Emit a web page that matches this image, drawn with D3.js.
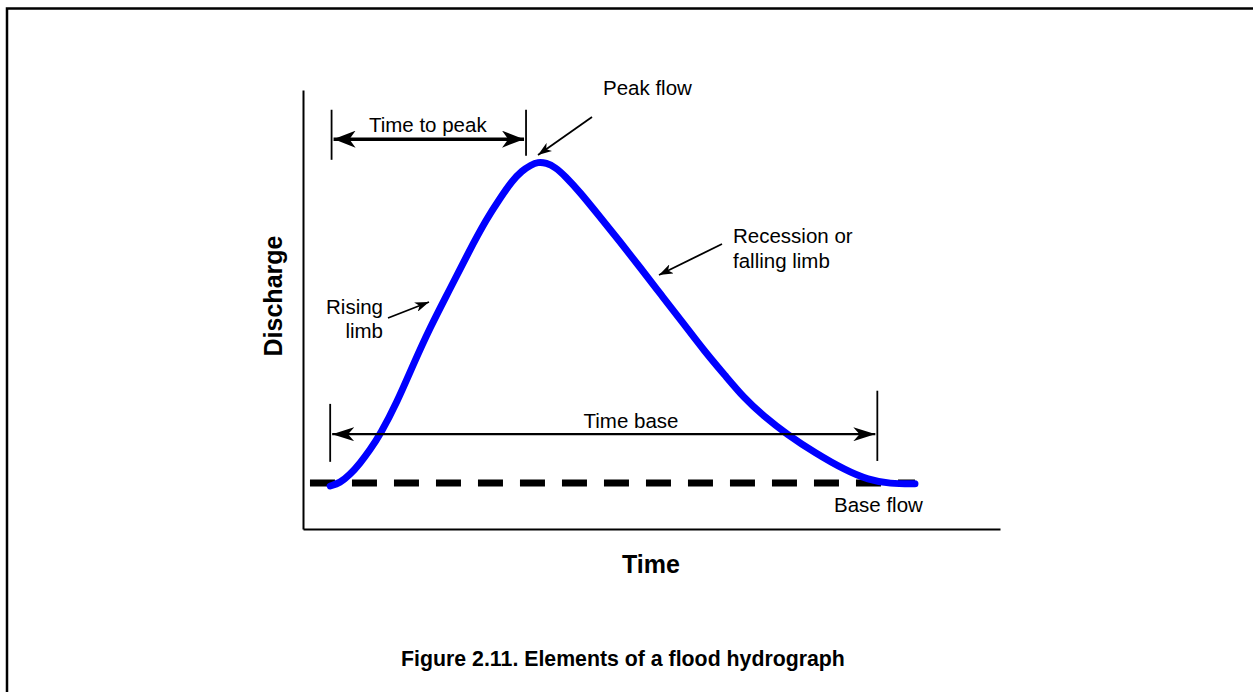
<!DOCTYPE html>
<html>
<head>
<meta charset="utf-8">
<script src="https://cdn.jsdelivr.net/npm/d3@7"></script>
<style>
    body { margin: 0; background: #fff; }
    text { font-family: "Liberation Sans", Arial, sans-serif; fill: #000; }
    .bold { font-weight: bold; }
</style>
</head>
<body>
<div id="chart"></div>
<script>
// Hydrograph values (time and discharge in relative units, 0-100)
var hydroTime = [3.9, 5.3, 6.7, 8.2, 9.6, 11.1, 13.5, 15.8, 18.2, 21.0, 23.7, 26.4, 28.3, 30.0, 31.4, 32.7, 33.7,
    34.9, 36.2, 37.6, 39.7, 42.6, 45.5, 48.4, 51.4, 54.4, 57.7, 60.6, 63.3, 66.1, 69.4, 73.5, 77.8, 81.1, 84.2, 87.8];
var hydroFlow = [9.8, 10.5, 12.3, 15.0, 18.0, 21.6, 28.9, 37.4, 45.8, 54.4, 62.9, 70.8, 75.4, 79.3, 81.6, 82.9, 83.6,
    83.4, 82.4, 80.4, 76.8, 71.1, 65.4, 59.5, 53.3, 47.2, 40.3, 34.9, 29.8, 25.7, 21.6, 17.3, 13.4, 11.2, 10.3, 10.3];

// Base flow level and extent
var baseFlow = 10.5;
var baseFlowTime = [1.0, 87.8];

// Time to peak and time base spans
var peakSpan = [4.1, 32.0];
var baseSpan = [3.9, 82.4];

// Set up SVG params
var svgWdt = 1253;
var svgHgt = 692;

var svg = d3.select("#chart").append("svg")
    .attr("width", svgWdt)
    .attr("height", svgHgt);

// Scales (plot area in pixels)
var x = d3.scaleLinear().domain([0, 100]).range([303, 1000]);
var y = d3.scaleLinear().domain([0, 100]).range([529, 90]);

// Outer frame
svg.append("rect")
    .attr("x", 7).attr("y", 8.5)
    .attr("width", 1300).attr("height", 800)
    .attr("fill", "none")
    .attr("stroke", "#000")
    .attr("stroke-width", 2.5);

// Arrow markers
var defs = svg.append("defs");
function addMarker(id, len, wid) {
    defs.append("marker")
        .attr("id", id)
        .attr("markerUnits", "userSpaceOnUse")
        .attr("viewBox", `${-len} ${-wid / 2} ${len} ${wid}`)
        .attr("refX", 0).attr("refY", 0)
        .attr("markerWidth", len).attr("markerHeight", wid)
        .attr("orient", "auto-start-reverse")
        .append("path")
            .attr("d", `M0,0 L${-len},${-wid / 2} L${-len * 0.72},0 L${-len},${wid / 2} Z`)
            .attr("fill", "#000");
}
addMarker("bigHead", 22, 17);
addMarker("midHead", 22, 14);
addMarker("smallHead", 14, 10);

// Axes (no ticks)
svg.append("g")
    .attr("transform", `translate(${x(0)},0)`)
    .call(d3.axisLeft(y).ticks(0).tickSizeOuter(0))
    .select(".domain").attr("stroke-width", 2);
svg.append("g")
    .attr("transform", `translate(0,${y(0)})`)
    .call(d3.axisBottom(x).ticks(0).tickSizeOuter(0))
    .select(".domain").attr("stroke-width", 2);

// Base flow dashed line
svg.append("line")
    .attr("x1", x(baseFlowTime[0])).attr("x2", x(baseFlowTime[1]))
    .attr("y1", y(baseFlow)).attr("y2", y(baseFlow))
    .attr("stroke", "#000")
    .attr("stroke-width", 7)
    .attr("stroke-dasharray", "25,17");

// Hydrograph curve
var pts = hydroTime.map((t, i) => [t, hydroFlow[i]]);
var line = d3.line()
    .x(d => x(d[0]))
    .y(d => y(d[1]))
    .curve(d3.curveBasis);
svg.append("path")
    .datum(pts)
    .attr("d", line)
    .attr("fill", "none")
    .attr("stroke", "#0000ff")
    .attr("stroke-width", 7)
    .attr("stroke-linecap", "round")
    .attr("stroke-linejoin", "round");

// Time to peak
[peakSpan[0], peakSpan[1]].forEach((t, i) => {
    svg.append("line")
        .attr("x1", x(t)).attr("x2", x(t))
        .attr("y1", y(95.5)).attr("y2", y(i == 0 ? 84.1 : 85))
        .attr("stroke", "#000").attr("stroke-width", 1.8);
});
svg.append("line")
    .attr("x1", x(peakSpan[0]) + 2).attr("x2", x(peakSpan[1]) - 2)
    .attr("y1", y(88.8)).attr("y2", y(88.8))
    .attr("stroke", "#000").attr("stroke-width", 3.5)
    .attr("marker-start", "url(#bigHead)")
    .attr("marker-end", "url(#bigHead)");
svg.append("text")
    .attr("x", (x(peakSpan[0]) + x(peakSpan[1])) / 2 - 1)
    .attr("y", 132)
    .attr("text-anchor", "middle")
    .attr("font-size", "20.5px")
    .text("Time to peak");

// Time base
svg.append("line")
    .attr("x1", x(baseSpan[0])).attr("x2", x(baseSpan[0]))
    .attr("y1", y(28.5)).attr("y2", y(15.3))
    .attr("stroke", "#000").attr("stroke-width", 1.8);
svg.append("line")
    .attr("x1", x(baseSpan[1])).attr("x2", x(baseSpan[1]))
    .attr("y1", y(31.5)).attr("y2", y(15.5))
    .attr("stroke", "#000").attr("stroke-width", 1.8);
svg.append("line")
    .attr("x1", x(baseSpan[0]) + 2).attr("x2", x(baseSpan[1]) - 2)
    .attr("y1", y(21.6)).attr("y2", y(21.6))
    .attr("stroke", "#000").attr("stroke-width", 2.2)
    .attr("marker-start", "url(#midHead)")
    .attr("marker-end", "url(#midHead)");
svg.append("text")
    .attr("x", 631).attr("y", 428)
    .attr("text-anchor", "middle")
    .attr("font-size", "20.5px")
    .text("Time base");

// Callout arrows
var callouts = [
    {from: [592, 117], to: [538, 155]},
    {from: [388, 318], to: [429, 302]},
    {from: [722, 244], to: [659, 275]}
];
callouts.forEach(c => {
    svg.append("line")
        .attr("x1", c.from[0]).attr("y1", c.from[1])
        .attr("x2", c.to[0]).attr("y2", c.to[1])
        .attr("stroke", "#000").attr("stroke-width", 1.8)
        .attr("marker-end", "url(#smallHead)");
});

// Annotation labels
var labels = [
    {x: 603, y: 95, anchor: "start", text: "Peak flow"},
    {x: 383, y: 314, anchor: "end", text: "Rising"},
    {x: 383, y: 338, anchor: "end", text: "limb"},
    {x: 733, y: 243, anchor: "start", text: "Recession or"},
    {x: 733, y: 268, anchor: "start", text: "falling limb"},
    {x: 834, y: 512, anchor: "start", text: "Base flow"}
];
svg.selectAll(".lbl").data(labels)
    .enter()
    .append("text")
        .attr("class", "lbl")
        .attr("x", d => d.x)
        .attr("y", d => d.y)
        .attr("text-anchor", d => d.anchor)
        .attr("font-size", "20.5px")
        .text(d => d.text);

// Axis titles
svg.append("text")
    .attr("class", "bold")
    .attr("transform", "translate(282,296) rotate(-90)")
    .attr("text-anchor", "middle")
    .attr("font-size", "25px")
    .text("Discharge");
svg.append("text")
    .attr("class", "bold")
    .attr("x", 651).attr("y", 573)
    .attr("text-anchor", "middle")
    .attr("font-size", "25px")
    .text("Time");

// Caption
svg.append("text")
    .attr("class", "bold")
    .attr("x", 623).attr("y", 666)
    .attr("text-anchor", "middle")
    .attr("font-size", "21.3px")
    .text("Figure 2.11. Elements of a flood hydrograph");
</script>
</body>
</html>
